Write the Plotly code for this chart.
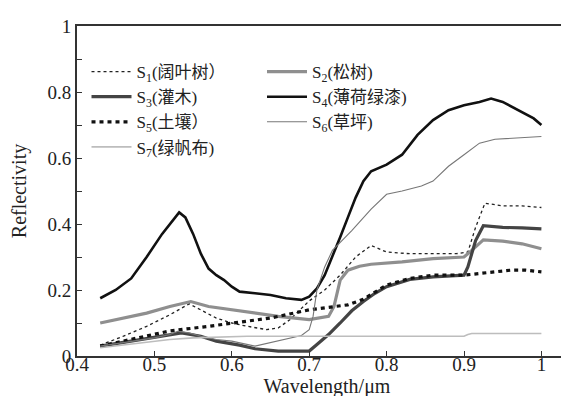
import plotly.graph_objects as go

# ---- data ----
names = ["S<sub>1</sub>(阔叶树）", "S<sub>2</sub>(松树)", "S<sub>3</sub>(灌木)", "S<sub>4</sub>(薄荷绿漆)",
         "S<sub>5</sub>(土壤）", "S<sub>6</sub>(草坪)", "S<sub>7</sub>(绿帆布)"]

s1_x = [0.43, 0.46, 0.49, 0.52, 0.545, 0.56, 0.58, 0.60, 0.62, 0.645, 0.66, 0.675, 0.69, 0.70, 0.72, 0.74,
        0.76, 0.78, 0.80, 0.83, 0.86, 0.89, 0.905, 0.915, 0.927, 0.95, 0.975, 1.0]
s1_y = [0.033, 0.06, 0.09, 0.125, 0.158, 0.14, 0.115, 0.10, 0.09, 0.08, 0.085, 0.11, 0.145, 0.167, 0.20, 0.245,
        0.30, 0.335, 0.315, 0.31, 0.31, 0.31, 0.315, 0.39, 0.463, 0.455, 0.455, 0.45]

s2_x = [0.43, 0.46, 0.49, 0.52, 0.547, 0.57, 0.60, 0.63, 0.66, 0.70, 0.725, 0.732, 0.74, 0.75, 0.765, 0.78,
        0.82, 0.86, 0.90, 0.91, 0.925, 0.95, 0.975, 1.0]
s2_y = [0.10, 0.115, 0.13, 0.15, 0.165, 0.15, 0.14, 0.13, 0.12, 0.11, 0.12, 0.15, 0.23, 0.26, 0.272, 0.278,
        0.285, 0.295, 0.30, 0.32, 0.352, 0.348, 0.34, 0.325]

s3_x = [0.43, 0.47, 0.50, 0.535, 0.56, 0.58, 0.61, 0.63, 0.66, 0.70, 0.71, 0.725, 0.74, 0.755, 0.77, 0.785,
        0.80, 0.83, 0.86, 0.90, 0.905, 0.915, 0.925, 0.95, 0.975, 1.0]
s3_y = [0.03, 0.045, 0.055, 0.07, 0.06, 0.045, 0.033, 0.022, 0.015, 0.015, 0.035, 0.065, 0.10, 0.137, 0.165,
        0.19, 0.21, 0.232, 0.24, 0.245, 0.27, 0.35, 0.395, 0.39, 0.388, 0.385]

s4_x = [0.43, 0.45, 0.47, 0.49, 0.51, 0.52, 0.532, 0.54, 0.55, 0.56, 0.57, 0.58, 0.59, 0.60, 0.61, 0.63,
        0.65, 0.67, 0.69, 0.70, 0.71, 0.72, 0.73, 0.74, 0.75, 0.76, 0.77, 0.78, 0.80, 0.82, 0.84, 0.86,
        0.88, 0.90, 0.92, 0.935, 0.95, 0.97, 0.99, 1.0]
s4_y = [0.175, 0.20, 0.235, 0.30, 0.37, 0.40, 0.435, 0.42, 0.37, 0.31, 0.265, 0.245, 0.23, 0.21, 0.195, 0.19,
        0.185, 0.175, 0.17, 0.18, 0.205, 0.245, 0.30, 0.36, 0.42, 0.48, 0.53, 0.56, 0.58, 0.61, 0.67, 0.715,
        0.745, 0.76, 0.77, 0.78, 0.77, 0.745, 0.72, 0.70]

s5_x = [0.43, 0.47, 0.52, 0.57, 0.60, 0.65, 0.70, 0.73, 0.75, 0.77, 0.80, 0.83, 0.86, 0.90, 0.93, 0.96, 0.98, 1.0]
s5_y = [0.03, 0.05, 0.076, 0.09, 0.10, 0.115, 0.14, 0.15, 0.155, 0.172, 0.215, 0.235, 0.245, 0.245, 0.252,
        0.26, 0.26, 0.255]

s6_x = [0.43, 0.47, 0.50, 0.52, 0.53, 0.545, 0.56, 0.58, 0.60, 0.63, 0.66, 0.69, 0.70, 0.705, 0.71, 0.72,
        0.73, 0.755, 0.78, 0.80, 0.82, 0.845, 0.86, 0.88, 0.90, 0.92, 0.94, 0.97, 1.0]
s6_y = [0.03, 0.045, 0.055, 0.065, 0.075, 0.07, 0.06, 0.05, 0.045, 0.03, 0.045, 0.062, 0.08, 0.12, 0.2, 0.27,
        0.32, 0.38, 0.445, 0.49, 0.50, 0.515, 0.53, 0.575, 0.61, 0.645, 0.657, 0.66, 0.665]

s7_x = [0.43, 0.48, 0.52, 0.55, 0.58, 0.62, 0.70, 0.80, 0.90, 0.905, 0.91, 0.95, 1.0]
s7_y = [0.025, 0.04, 0.05, 0.055, 0.058, 0.06, 0.06, 0.06, 0.06, 0.065, 0.068, 0.068, 0.068]

x_tickvals = [0.4, 0.5, 0.6, 0.7, 0.8, 0.9, 1.0]
x_ticktext = ["0.4", "0.5", "0.6", "0.7", "0.8", "0.9", "1"]
y_tickvals = [0, 0.2, 0.4, 0.6, 0.8, 1.0]
y_ticktext = ["0", "0.2", "0.4", "0.6", "0.8", "1"]

FONT = "'Liberation Serif', 'Noto Sans CJK SC', serif"

series = [
    (s1_x, s1_y, dict(color="#222", width=1.3, dash="3px,3px"), "legend"),
    (s2_x, s2_y, dict(color="#8f8f8f", width=3.2), "legend2"),
    (s3_x, s3_y, dict(color="#444", width=3.2), "legend"),
    (s4_x, s4_y, dict(color="#111", width=2.6), "legend2"),
    (s5_x, s5_y, dict(color="#111", width=3.2, dash="4px,4px"), "legend"),
    (s6_x, s6_y, dict(color="#777", width=1.1), "legend2"),
    (s7_x, s7_y, dict(color="#bdbdbd", width=1.6), "legend"),
]

fig = go.Figure()
for (xs, ys, ln, lg), nm in zip(series, names):
    fig.add_trace(go.Scatter(x=xs, y=ys, mode="lines", name=nm, line=ln, legend=lg))

W, H = 569, 396
ml, mr, mt, mb = 69, 0, 18, 48

legend_common = dict(
    bgcolor="rgba(0,0,0,0)", borderwidth=0,
    font=dict(family=FONT, size=17, color="#222"),
    tracegroupgap=0, itemwidth=40,
    xanchor="left", yanchor="top",
)

fig.update_layout(
    width=W, height=H,
    margin=dict(l=ml, r=mr, t=mt, b=mb, pad=0),
    paper_bgcolor="white", plot_bgcolor="white",
    font=dict(family=FONT, size=19, color="#222"),
    showlegend=True,
    legend=dict(x=0.019, y=0.915, **legend_common),
    legend2=dict(x=0.37, y=0.915, **legend_common),
    xaxis=dict(
        range=[0.4, 0.4 + 500 / 774], tickvals=x_tickvals, ticktext=x_ticktext,
        ticks="inside", ticklen=5, tickwidth=1.2, tickcolor="#333",
        showline=True, linecolor="#333", linewidth=1.8, mirror=True,
        showgrid=False, zeroline=False, ticklabelstandoff=-10,
        title=dict(text="Wavelength/μm", font=dict(family=FONT, size=20), standoff=0),
        tickfont=dict(family=FONT, size=19),
    ),
    yaxis=dict(
        range=[0, 1], tickvals=y_tickvals, ticktext=y_ticktext,
        ticks="inside", ticklen=5, tickwidth=1.2, tickcolor="#333",
        minor=dict(dtick=0.1, tick0=0, ticks="inside", ticklen=5, tickwidth=1.2, tickcolor="#333"),
        showline=True, linecolor="#333", linewidth=1.8,
        showgrid=False, zeroline=False,
        title=dict(text="Reflectivity", font=dict(family=FONT, size=20), standoff=16),
        tickfont=dict(family=FONT, size=19),
    ),
)

fig.write_html("out.html")
